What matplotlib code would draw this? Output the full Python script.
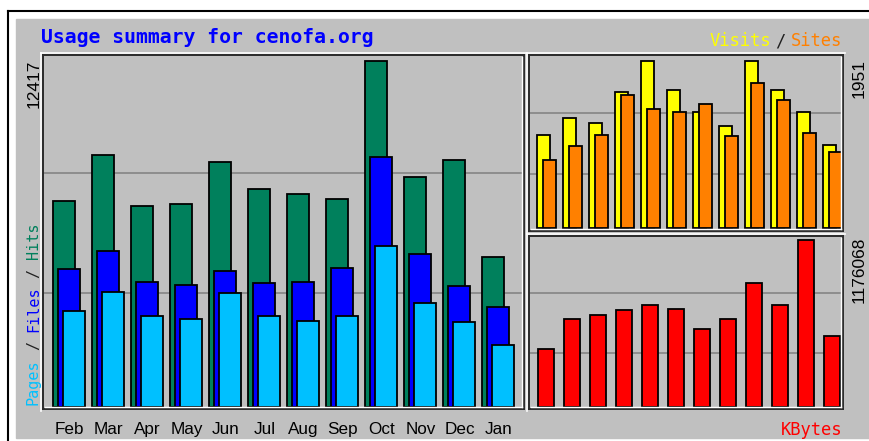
import numpy as np
import matplotlib.pyplot as plt
from matplotlib.lines import Line2D
from matplotlib.patches import Rectangle

months = ["Feb", "Mar", "Apr", "May", "Jun", "Jul",
          "Aug", "Sep", "Oct", "Nov", "Dec", "Jan"]
hits = [7393, 9044, 7213, 7285, 8792, 7823, 7644, 7464, 12417, 8254, 8864, 5383]
files = [4952, 5598, 4486, 4378, 4881, 4450, 4486, 4988, 8972, 5491, 4342, 3589]
pages = [3445, 4127, 3266, 3158, 4091, 3266, 3086, 3266, 5778, 3732, 3050, 2225]
visits = [1087, 1285, 1227, 1589, 1948, 1612, 1355, 1192, 1951, 1612, 1355, 970]
sites = [794, 958, 1087, 1554, 1390, 1355, 1449, 1075, 1694, 1495, 1110, 888]
kbytes = [408455, 619724, 647892, 683100, 718316, 690144, 549300, 619724,
          873248, 718316, 1176068, 500000]

W, H = 869, 441
BG = "#c0c0c0"
MONO = "DejaVu Sans Mono"
SANS = "Liberation Sans"


def fx(x):
    return x / W


def fy(y):
    return 1 - y / H


fig = plt.figure(figsize=(W / 100, H / 100), dpi=100)
fig.patch.set_facecolor("white")

# gray canvas with black frame on top and left
fig.add_artist(Rectangle((fx(16), fy(438)), fx(869) - fx(16), fy(19) - fy(438),
                         transform=fig.transFigure, color=BG, zorder=0))
fig.add_artist(Line2D([fx(8), fx(8)], [fy(11), 0], color="black", lw=1.5))
fig.add_artist(Line2D([fx(8), 1], [fy(11), fy(11)], color="black", lw=1.5))


def panel(left, top, right, bottom):
    ax = fig.add_axes([fx(left), fy(bottom), fx(right) - fx(left), fy(top) - fy(bottom)])
    ax.set_facecolor(BG)
    ax.set_yticks([])
    for s in ax.spines.values():
        s.set_color("#2a2a2a")
        s.set_linewidth(1.4)
    # bevel highlights
    fig.add_artist(Line2D([fx(left - 2)] * 2, [fy(bottom + 2), fy(top - 2)], color="white", lw=1.2))
    fig.add_artist(Line2D([fx(left - 2), fx(right + 2)], [fy(top - 2)] * 2, color="white", lw=1.2))
    fig.add_artist(Line2D([fx(left + 2), fx(right - 2)], [fy(bottom - 2)] * 2, color="white", lw=1.0))
    fig.add_artist(Line2D([fx(right - 2)] * 2, [fy(bottom - 2), fy(top + 2)], color="white", lw=1.0))
    return ax


def fit_y(ax, vmax, top, bottom, bar_top, base):
    scale = vmax / (base - bar_top)
    ax.set_ylim(-(bottom - base) * scale, vmax + (bar_top - top) * scale)


bar_kw = dict(align="edge", edgecolor="black", linewidth=1.3)
x = np.arange(len(months))

# main panel: hits / files / pages
ax = panel(43, 55, 524, 409)
step = 39
ax.set_xlim(-10 / step, -10 / step + 481 / step)
fit_y(ax, max(hits), 55, 409, 61, 407)
for f in [0.33, 0.676]:
    ax.axhline(max(hits) * f, color="#808080", lw=1.1, zorder=0.5)
ax.bar(x, hits, width=22 / step, color="#00805c", **bar_kw)
ax.bar(x + 5 / step, files, width=22 / step, color="#0000ff", **bar_kw)
ax.bar(x + 10 / step, pages, width=22 / step, color="#00c0ff", **bar_kw)
ax.set_xticks(x + 16.5 / step, months)
ax.tick_params(axis="x", length=0, pad=9.5)
for t in ax.get_xticklabels():
    t.set_family(SANS)
    t.set_fontsize(12.3)

# visits / sites panel
ax2 = panel(529, 55, 843, 231)
step = 26
ax2.set_xlim(-8 / step, -8 / step + 314 / step)
ax2.set_xticks([])
fit_y(ax2, max(visits), 55, 231, 61, 228)
for f in [0.323, 0.689]:
    ax2.axhline(max(visits) * f, color="#808080", lw=1.1, zorder=0.5)
ax2.bar(x, visits, width=13 / step, color="#ffff00", **bar_kw)
ax2.bar(x + 6 / step, sites, width=13 / step, color="#ff8000", **bar_kw)

# kbytes panel
ax3 = panel(529, 236, 843, 409)
ax3.set_xlim(-9 / step, -9 / step + 314 / step)
ax3.set_xticks([])
fit_y(ax3, max(kbytes), 236, 409, 240, 407)
for f in [0.323, 0.683]:
    ax3.axhline(max(kbytes) * f, color="#808080", lw=1.1, zorder=0.5)
ax3.bar(x, kbytes, width=16 / step, color="#ff0000", **bar_kw)

# titles and labels
fig.text(fx(41), fy(43), "Usage summary for cenofa.org", color="#0000ff",
         family=MONO, weight="bold", fontsize=14.2, va="baseline", ha="left")

fig.text(fx(771), fy(46), "Visits", color="#ffff00", family=MONO, fontsize=12.3,
         ha="right", va="baseline")
fig.text(fx(775), fy(46), "/", color="#202020", family=MONO, fontsize=12.3,
         ha="left", va="baseline")
fig.text(fx(842), fy(46), "Sites", color="#ff8000", family=MONO, fontsize=12.3,
         ha="right", va="baseline")
fig.text(fx(842), fy(435), "KBytes", color="#ff0000", family=MONO, fontsize=12.3,
         ha="right", va="baseline")

# rotated multi-colour label, drawn piece by piece along the baseline
label = "Pages / Files / Hits"
pieces = [("Pages", "#00c0ff"), ("/", "#202020"), ("Files", "#0000ff"),
          ("/", "#202020"), ("Hits", "#00805c")]
charw = 9.1
pos = 0
for word, col in pieces:
    i = label.index(word, pos)
    fig.text(fx(38), fy(405 - i * charw), word, color=col, family=MONO, fontsize=10.9,
             rotation=90, rotation_mode="anchor", ha="left", va="baseline")
    pos = i + len(word)

fig.text(fx(34), fy(60), str(max(hits)), family=SANS, fontsize=12.5,
         rotation=90, ha="center", va="top")
fig.text(fx(859), fy(59), str(max(visits)), family=SANS, fontsize=12.5,
         rotation=90, ha="center", va="top")
fig.text(fx(859), fy(237), str(max(kbytes)), family=SANS, fontsize=12.5,
         rotation=90, ha="center", va="top")

fig.savefig("out.png", dpi=100, facecolor=fig.get_facecolor())
